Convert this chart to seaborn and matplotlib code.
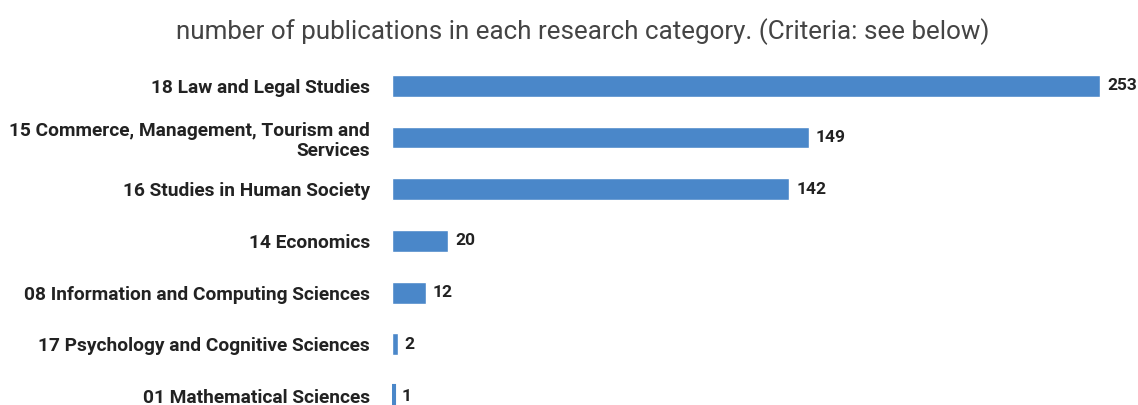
import matplotlib
matplotlib.use("Agg")
import matplotlib.pyplot as plt
import seaborn as sns
import pandas as pd

categories = [
    "18 Law and Legal Studies",
    "15 Commerce, Management, Tourism and\nServices",
    "16 Studies in Human Society",
    "14 Economics",
    "08 Information and Computing Sciences",
    "17 Psychology and Cognitive Sciences",
    "01 Mathematical Sciences",
]
counts = [253, 149, 142, 20, 12, 2, 1]
title = "number of publications in each research category. (Criteria: see below)"

sns.set_style("white")
plt.rcParams['font.family'] = ['Roboto', 'DejaVu Sans']

df = pd.DataFrame({"category": categories, "count": counts})

W, H = 1138, 405
fig = plt.figure(figsize=(W / 100, H / 100), dpi=100)
left = 392 / W
right = 1100 / W
top_px = 60
ax = fig.add_axes([left, 0, right - left, (H - top_px) / H])

bar_color = "#4a87c9"
sns.barplot(data=df, x="count", y="category", color=bar_color, saturation=1,
            width=0.42, ax=ax, orient="h")

# very thin bars get a minimal visible width, as in the reference
for p in ax.patches:
    if p.get_width() < 1.5:
        p.set_edgecolor(bar_color)
        p.set_linewidth(1.5)

ax.set_xlim(0, 253)
spacing = (H - top_px) / 6.66
ax.set_ylim(6 + (H - 396) / spacing, -0.5 - (86 - top_px - spacing / 2) / spacing)

for i, v in enumerate(counts):
    ax.text(v + 253 * 7 / 708, i, str(v), va="center", ha="left",
            fontsize=12.5, fontweight="bold", color="#222222", clip_on=False)

ax.set_xlabel("")
ax.set_ylabel("")
ax.set_xticks([])
ax.tick_params(axis="y", length=0, pad=16)
for lbl in ax.get_yticklabels():
    lbl.set_fontsize(13.8)
    lbl.set_fontweight("bold")
    lbl.set_color("#222222")
    lbl.set_horizontalalignment("right")
    lbl.set_multialignment("right")
for s in ax.spines.values():
    s.set_visible(False)

fig.text(0.5 + 14 / W, 1 - 32 / H, title, ha="center", va="center", fontsize=18.7,
         color="#444444")

fig.savefig("out.png", dpi=100)
